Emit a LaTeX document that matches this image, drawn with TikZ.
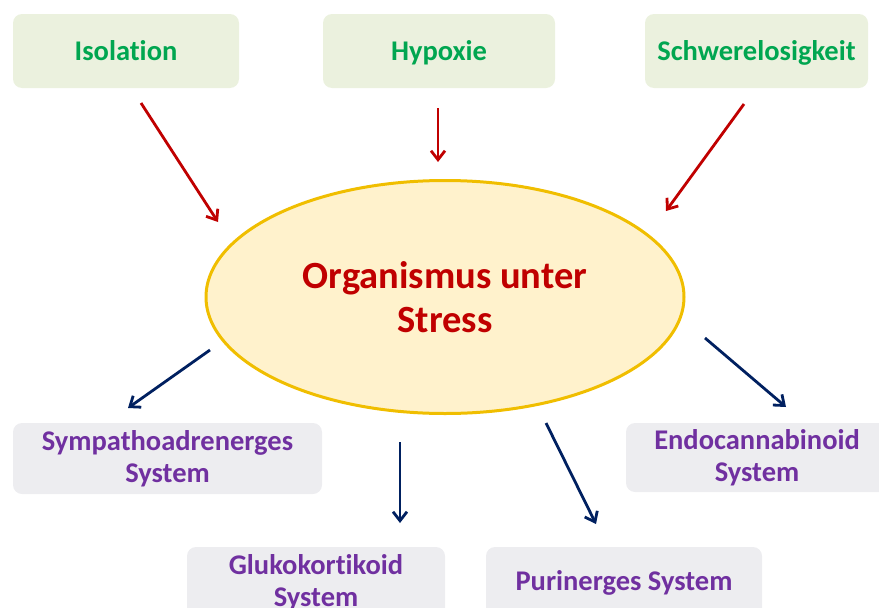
\documentclass[tikz,border=0pt]{standalone}
\usepackage{fontspec}
\setmainfont{Carlito}[Ligatures=NoCommon]
\usetikzlibrary{shapes.geometric,arrows.meta,positioning}
\definecolor{leaf}{RGB}{235,241,222}
\definecolor{leaftext}{RGB}{0,166,80}
\definecolor{stone}{RGB}{237,237,240}
\definecolor{plum}{RGB}{112,48,160}
\definecolor{wine}{RGB}{192,0,0}
\definecolor{navy}{RGB}{0,32,96}
\definecolor{cream}{RGB}{255,242,204}
\definecolor{gold}{RGB}{240,190,0}

\begin{document}
\begin{tikzpicture}[x=1pt,y=-1pt,font=\fontsize{28.5}{32}\selectfont\bfseries,
  cause/.style={fill=leaf,text=leaftext,rounded corners=9pt,minimum height=74pt,inner sep=0pt,text height=18pt,text depth=0pt},
  sysbox/.style={fill=stone,text=plum,rounded corners=9pt,align=center,inner sep=0pt},
  inflow/.style={-{Straight Barb[length=9pt,width=14pt]},wine,line width=2.8pt},
  outflow/.style={-{Straight Barb[length=9pt,width=14pt]},navy,line width=2.8pt}]
\useasboundingbox (0,0) rectangle (879,608);
% stressors
\node[cause,minimum width=226pt] (iso) at (126,51){Isolation};
\node[cause,minimum width=232pt] (hyp) at (439,51){Hypoxie};
\node[cause,minimum width=223pt] (schw) at (756.5,51){Schwerelosigkeit};
% organism
\node[ellipse,draw=gold,line width=3pt,fill=cream,text=wine,minimum width=478pt,minimum height=233pt,
  align=center,font=\fontsize{38.5}{44}\selectfont\bfseries] (org) at (445,297){Organismus unter\\Stress};
% systems
\node[sysbox,minimum width=309pt,minimum height=71pt] (symp) at (167.5,458.5){Sympathoadrenerges\\System};
\node[sysbox,minimum width=258pt,minimum height=71pt] (gluko) at (316,582.5){Glukokortikoid\\System};
\node[sysbox,minimum width=276pt,minimum height=71pt] (puri) at (624,582.5){Purinerges System};
\node[sysbox,minimum width=262pt,minimum height=69pt] (endo) at (757,457.5){Endocannabinoid\\System};
% arrow ends
\coordinate (isoA) at (141,103);  \coordinate (isoB) at (218,222);
\coordinate (hypA) at (438,108);  \coordinate (hypB) at (438,162);
\coordinate (schwA) at (744,104); \coordinate (schwB) at (666,211);
\coordinate (sympA) at (210,350); \coordinate (sympB) at (128,408);
\coordinate (glukoA) at (400,442); \coordinate (glukoB) at (400,523);
\coordinate (puriA) at (546,423); \coordinate (puriB) at (596,524);
\coordinate (endoA) at (705,338); \coordinate (endoB) at (786,407);
\foreach \n in {iso,hyp,schw}
   \draw[inflow] (\n A) -- (\n B);
\foreach \n in {symp,gluko,puri,endo}
   \draw[outflow] (\n A) -- (\n B);
\end{tikzpicture}
\end{document}
